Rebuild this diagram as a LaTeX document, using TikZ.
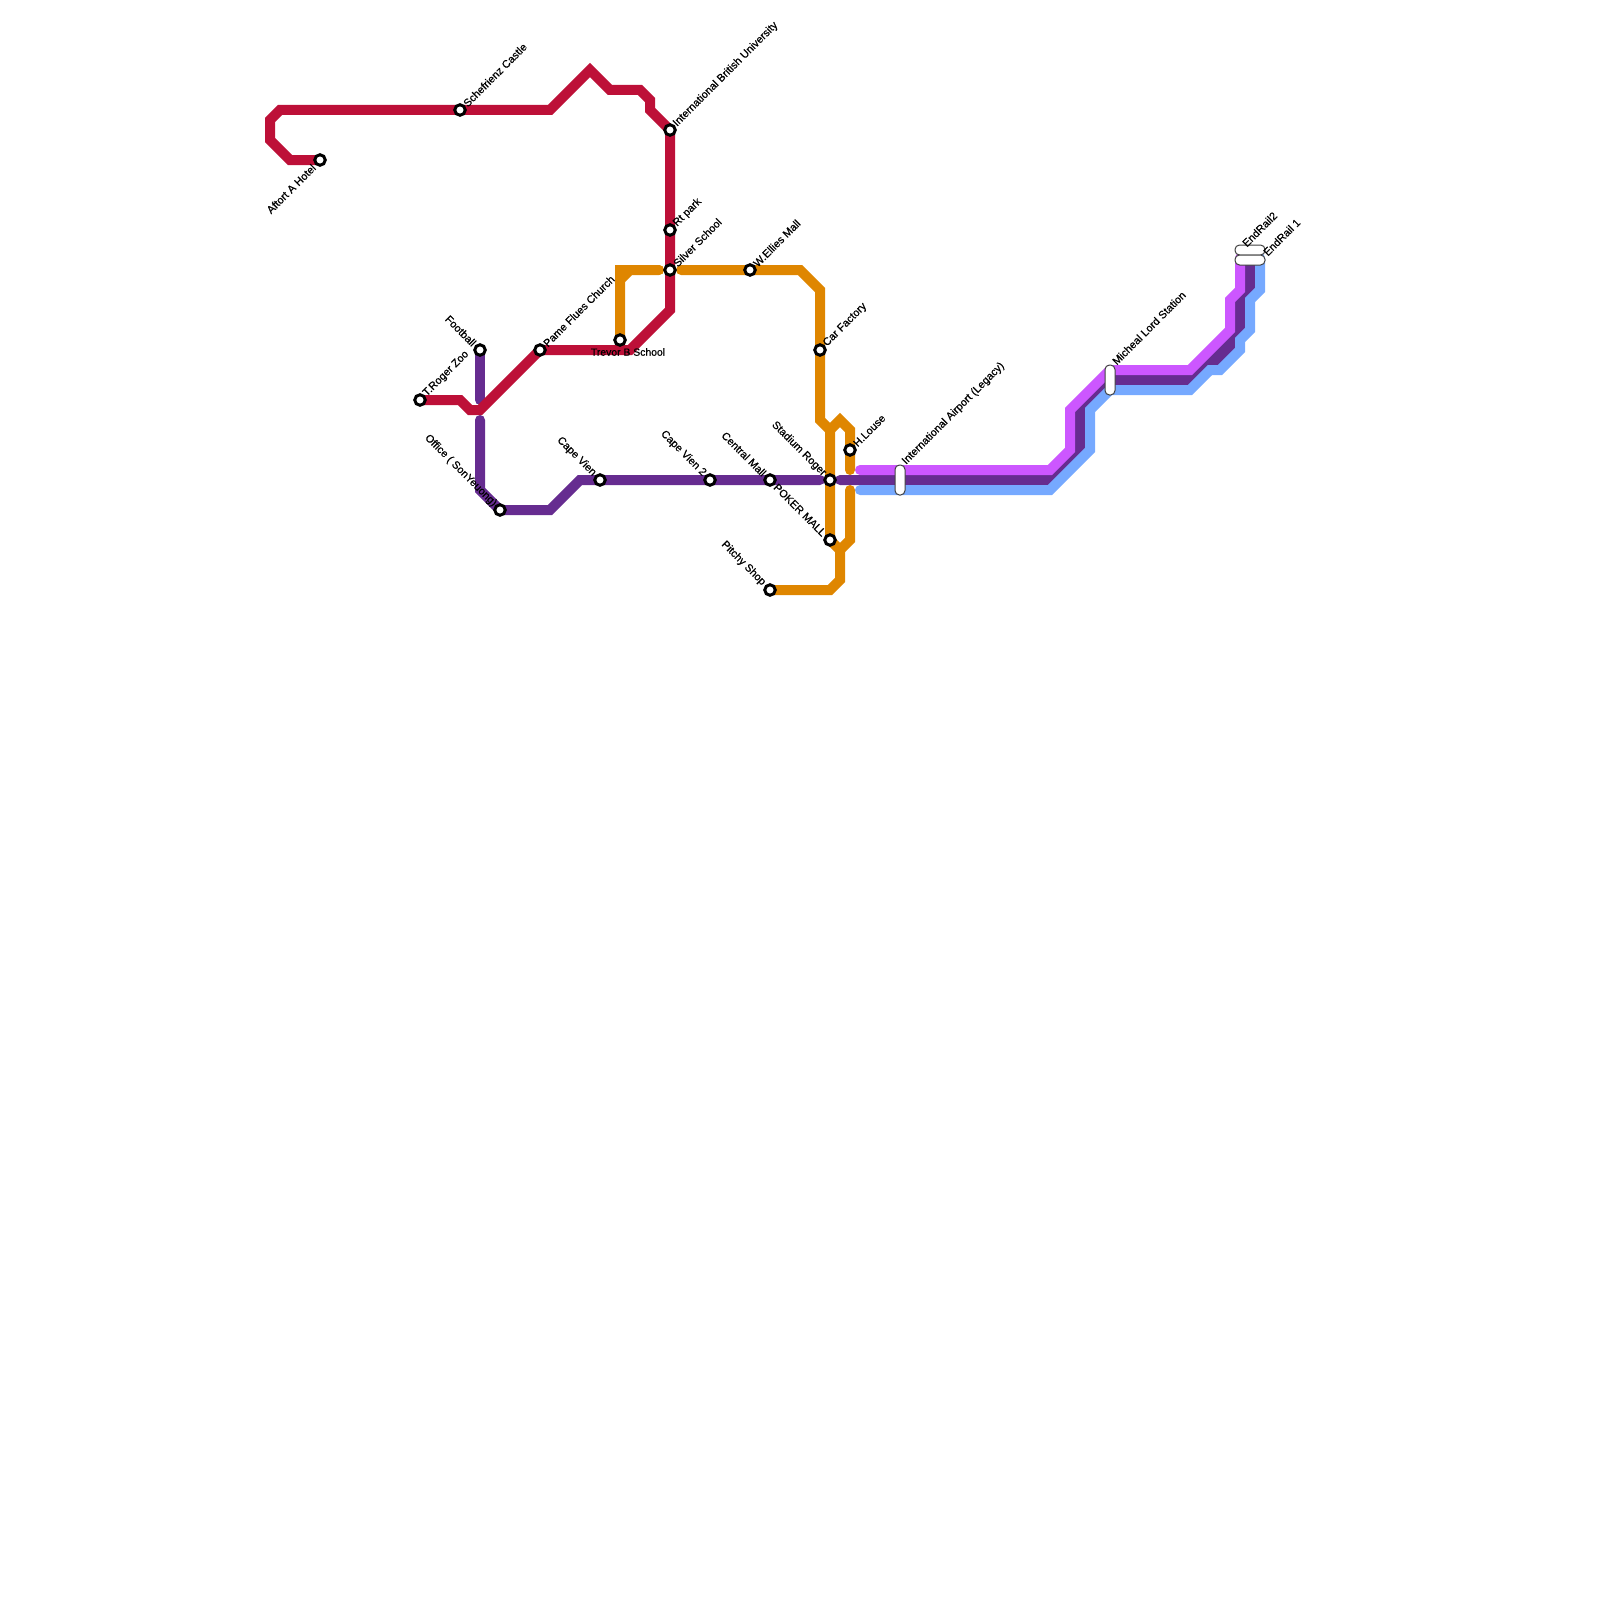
\documentclass[tikz,border=0pt]{standalone}
\usepackage{fontspec}
\setmainfont{Liberation Sans}
\newfontfamily\labfont[FakeBold=0.6]{Liberation Sans}
\usetikzlibrary{backgrounds}
\definecolor{lred}{HTML}{BD1038}
\definecolor{lorange}{HTML}{DF8600}
\definecolor{lpurple}{HTML}{662C90}
\definecolor{lpink}{HTML}{CC57FF}
\definecolor{lblue}{HTML}{76A9FF}
\tikzset{
  metro/.style={line width=10pt,line cap=round,line join=miter,miter limit=10},
  stn/.style={circle,draw=black,fill=white,line width=3pt,minimum size=10.5pt,inner sep=0pt,outer sep=0pt},
  pill/.style={draw=black!75,fill=white,line width=1pt,rounded corners=4.5pt,inner sep=0pt},
  lab/.style={font=\labfont\fontsize{10.8}{12}\selectfont,inner sep=0pt,text=black},
  ur/.style={lab,rotate=45,anchor=west},
  ul/.style={lab,rotate=-45,anchor=east},
  dl/.style={lab,rotate=45,anchor=east},
}
\begin{document}
\begin{tikzpicture}[x=1pt,y=-1pt]
\useasboundingbox (0,0) rectangle (1600,1600);
% stations
\node[stn] (aftort) at (320,160) {};
\node[stn] (schef) at (460,110) {};
\node[stn] (intl) at (670,130) {};
\node[stn] (rt) at (670,230) {};
\node[stn] (silver) at (670,270) {};
\node[stn] (pame) at (540,350) {};
\node[stn] (roger) at (420,400) {};
\node[stn] (football) at (480,350) {};
\node[stn] (trevor) at (620,340) {};
\node[stn] (ellies) at (750,270) {};
\node[stn] (car) at (820,350) {};
\node[stn] (house) at (850,450) {};
\node[stn] (stadium) at (830,480) {};
\node[stn] (poker) at (830,540) {};
\node[stn] (central) at (770,480) {};
\node[stn] (capeb) at (710,480) {};
\node[stn] (capea) at (600,480) {};
\node[stn] (office) at (500,510) {};
\node[stn] (pitchy) at (770,590) {};
\node[pill,minimum width=10pt,minimum height=30pt] (airport) at (900,480) {};
\node[pill,minimum width=10pt,minimum height=30pt] (micheal) at (1110,380) {};
\node[pill,minimum width=30pt,minimum height=10pt] (endb) at (1250,250) {};
\node[pill,minimum width=30pt,minimum height=10pt] (enda) at (1250,260) {};
% free ends
\coordinate (pinkstart) at (860,470);
\coordinate (bluestart) at (860,490);
\coordinate (purplestart) at (840,480);
\coordinate (purpleend) at (820,480);
\coordinate (footend) at (480,400);
\coordinate (offstart) at (480,420);
\coordinate (silverL) at (659,270);
\coordinate (silverR) at (681,270);
\coordinate (hend) at (850,470);
\coordinate (hstart) at (850,490);
% labels
\node[dl] (l1) at (314,166) {Aftort A Hotel};
\node[ur] (l2) at (465,105) {Schefrienz Castle};
\node[ur] (l3) at (675,125) {International British University};
\node[ur] (l4) at (675,225) {Rt park};
\node[ur] (l5) at (675,265) {Silver School};
\node[ur] (l6) at (545,345) {Pame Flues Church};
\node[ur] (l7) at (425,395) {T.Roger Zoo};
\node[ul] (l8) at (474.5,344.5) {Football};
\node[lab,font=\labfont\fontsize{10.4}{12}\selectfont] (l9) at (628,352) {Trevor B School};
\node[ur] (l10) at (755,265) {W.Ellies Mall};
\node[ur] (l11) at (825,345) {Car Factory};
\node[ur] (l12) at (855,445) {H.Louse};
\node[ul] (l13) at (824.5,474.5) {Stadium Roger};
\node[ul] (l14) at (824.5,534.5) {POKER MALL};
\node[ul] (l15) at (764.5,474.5) {Central Mall};
\node[ul] (l16) at (704.5,474.5) {Cape Vien 2};
\node[ul] (l17) at (594.5,474.5) {Cape Vien};
\node[ul] (l18) at (495,505) {Office ( SonYeuong)};
\node[ul] (l19) at (764,584) {Pitchy Shop};
\node[ur] (l20) at (904,463) {International Airport (Legacy)};
\node[ur] (l21) at (1114,363) {Micheal Lord Station};
\node[ur] (l22) at (1244,245) {EndRail2};
\node[ur] (l23) at (1265,254) {EndRail 1};
\begin{scope}[on background layer]
\draw[metro,lpurple] (purplestart) -- (1050,480) -- (1080,450) -- (1080,410) -- (micheal.center) -- (1190,380) -- (1240,330) -- (1240,300) -- (1250,290) -- (enda.center);
\draw[metro,lpurple] (1240,330) -- (1230,340) -- (1230,350) -- (1210,370) -- (1200,370) -- (1190,380);
\draw[metro,lblue] (bluestart) -- (1050,490) -- (1090,450) -- (1090,410) -- (1110,390) -- (1190,390) -- (1210,370) -- (1220,370) -- (1240,350) -- (1240,340) -- (1250,330) -- (1250,300) -- (1260,290) -- (1260,258);
\draw[metro,lpink] (pinkstart) -- (1050,470) -- (1070,450) -- (1070,410) -- (1110,370) -- (1190,370) -- (1230,330) -- (1230,300) -- (1240,290) -- (1240,258);
\draw[metro,lpurple] (football.center) -- (footend);
\draw[metro,lpurple] (offstart) -- (480,490) -- (office.center) -- (550,510) -- (580,480) -- (capea.center) -- (purpleend);
\draw[metro,lorange] (trevor.center) -- (620,280) -- (630,270) -- (silverL);
\draw[metro,lorange] (trevor.center) -- (620,270) -- (silverL);
\draw[metro,lorange] (silverR) -- (ellies.center) -- (800,270) -- (820,290) -- (car.center) -- (820,420) -- (830,430) -- (stadium.center) -- (poker.center) -- (840,550) -- (840,580) -- (830,590) -- (pitchy.center);
\draw[metro,lorange] (830,430) -- (840,420) -- (850,430) -- (house.center) -- (hend);
\draw[metro,lorange] (hstart) -- (850,540) -- (840,550);
\draw[metro,lred] (aftort.center) -- (290,160) -- (270,140) -- (270,120) -- (280,110) -- (schef.center) -- (550,110) -- (590,70) -- (610,90) -- (640,90) -- (650,100) -- (650,110) -- (intl.center) -- (rt.center) -- (silver.center) -- (670,310) -- (630,350) -- (pame.center) -- (480,410) -- (470,410) -- (460,400) -- (roger.center);
\end{scope}
\end{tikzpicture}
\end{document}
